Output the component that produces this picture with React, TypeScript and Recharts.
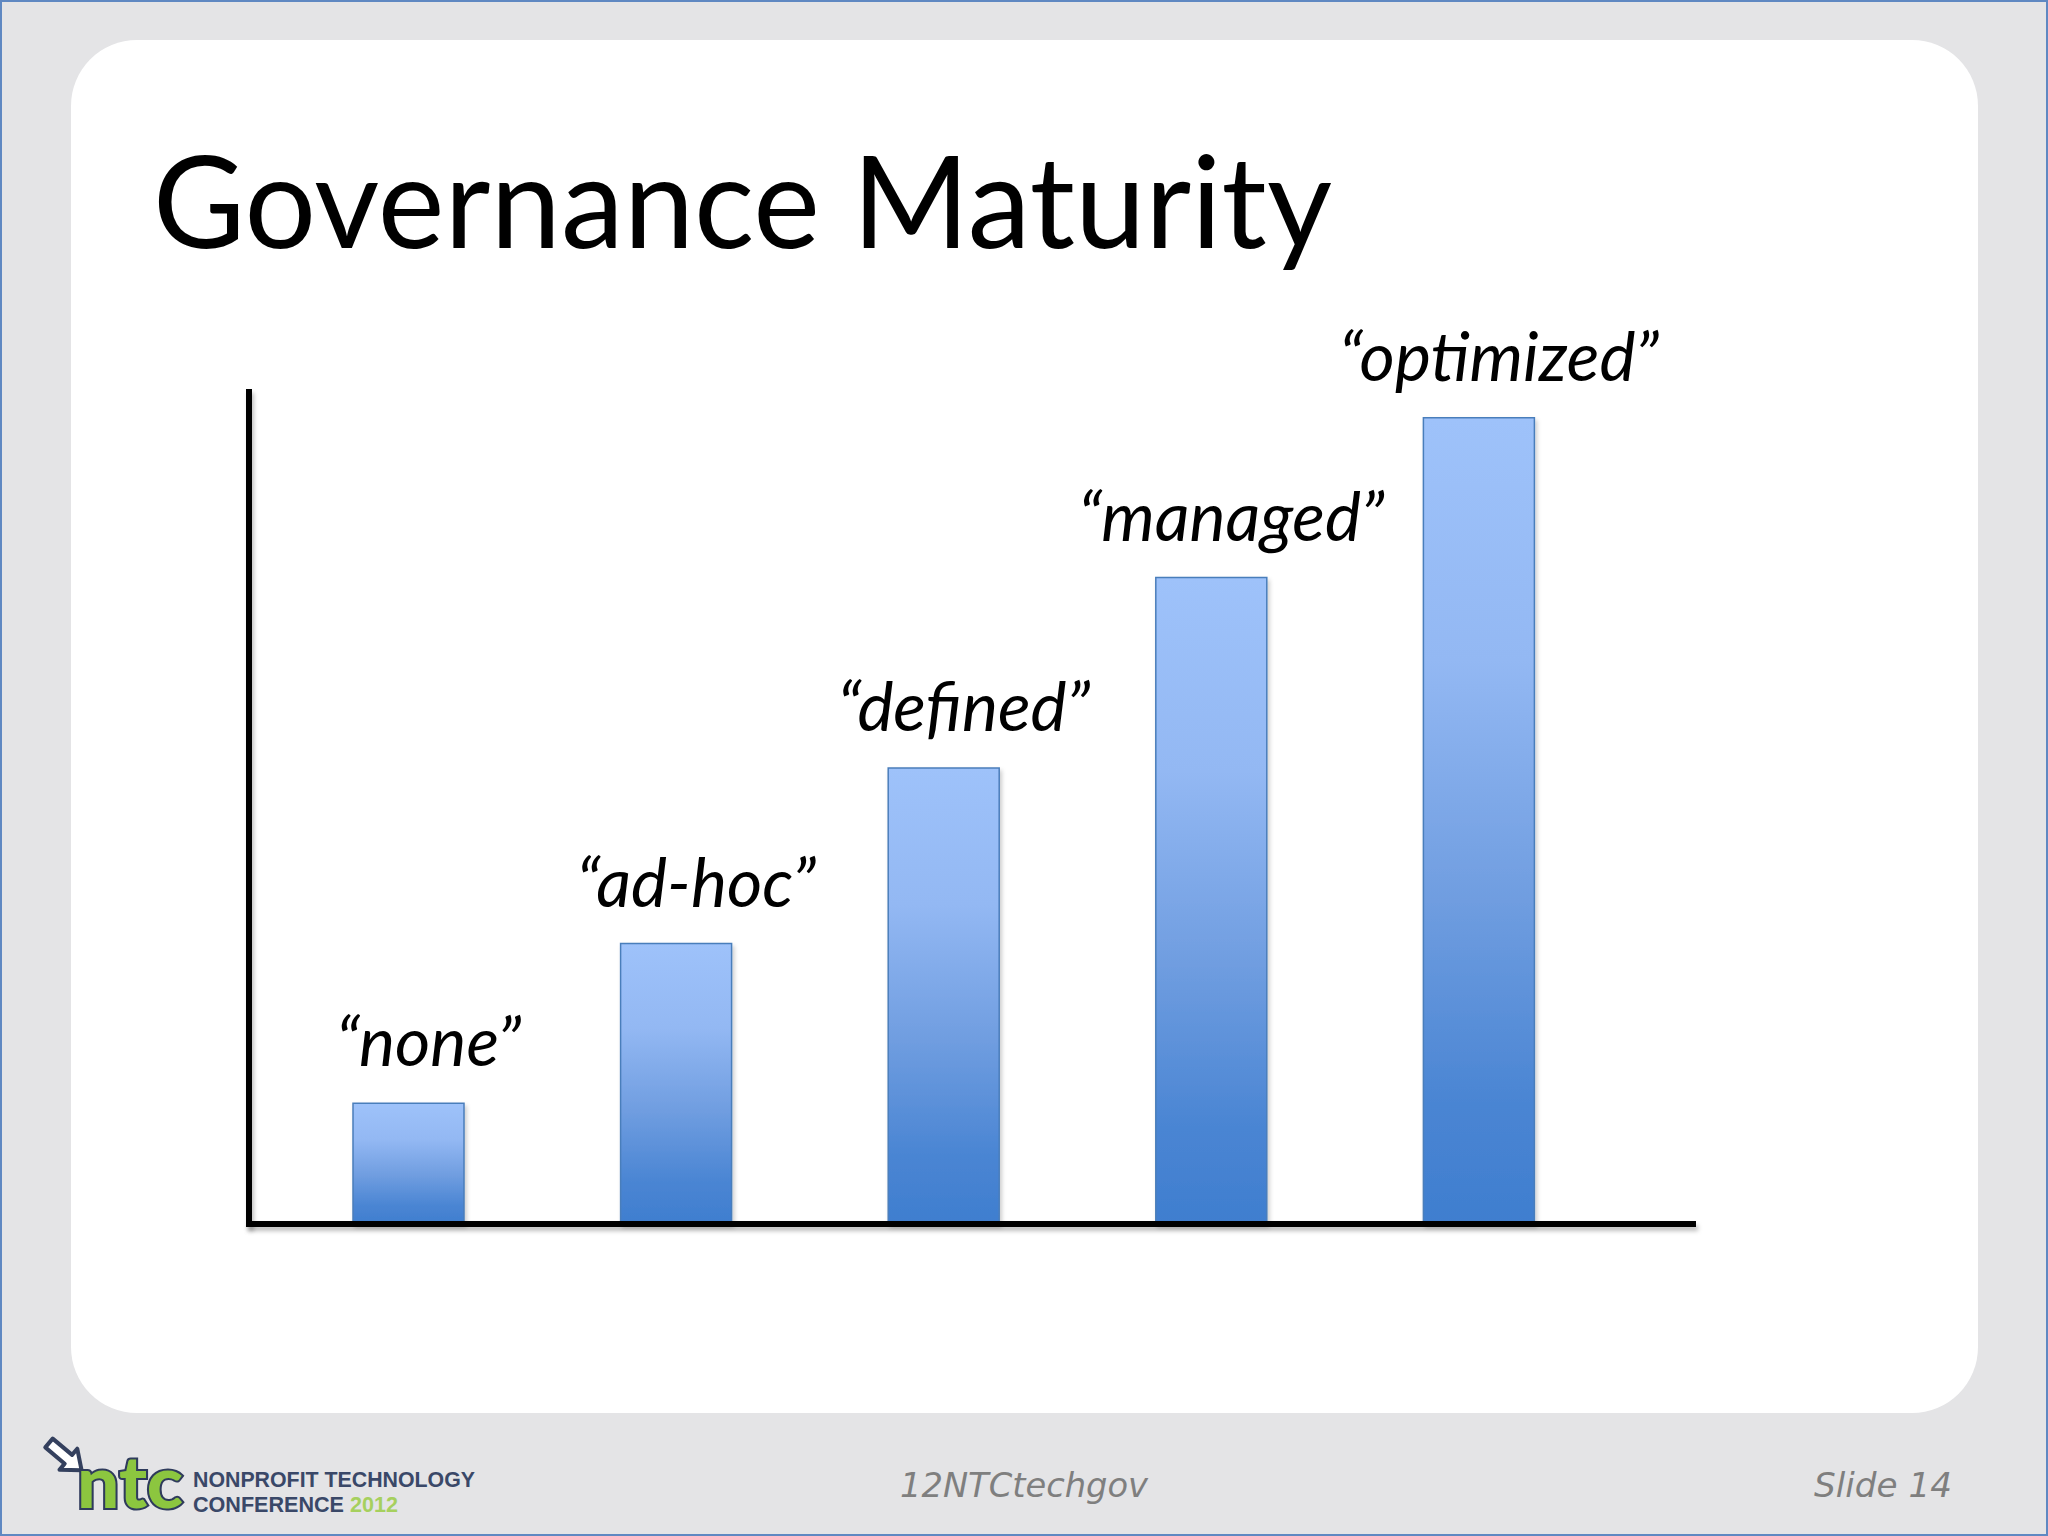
import React from 'react';
import { BarChart, Bar, XAxis, YAxis, LabelList } from 'recharts';

// ---- data ----
const categories: string[] = ['none', 'ad-hoc', 'defined', 'managed', 'optimized'];
const labels: string[] = ['\u201Cnone\u201D', '\u201Cad-hoc\u201D', '\u201Cdefined\u201D', '\u201Cmanaged\u201D', '\u201Coptimized\u201D'];
const maturity: number[] = [14.5, 33.7, 54.8, 77.7, 96.9];
const yDomain: [number, number] = [0, 100];

const titleText = 'Governance Maturity';
const footerCenter = '12NTCtechgov';
const footerRight = 'Slide 14';

const data = categories.map((c, i) => ({ category: c, label: labels[i], value: maturity[i] }));

const W = 2048;
const H = 1536;

const BarLabel = (props: any) => {
  const { x, y, width, value } = props;
  return (
    <text
      x={Number(x) + Number(width) / 2 + 20}
      y={Number(y) - 37}
      textAnchor="middle"
      fontFamily="Lato, 'Open Sans', sans-serif"
      fontStyle="italic"
      fontSize={68}
      fill="#000"
    >
      {value}
    </text>
  );
};

const Logo = () => (
  <g>
    {/* arrow icon */}
    <g transform="translate(49 1443) rotate(40) scale(1.15)">
      <path
        d="M0 -5 L22 -5 L22 -12 L37 0 L22 12 L22 5 L0 5 Z"
        fill="#ffffff"
        stroke="#34405e"
        strokeWidth={3.5}
        strokeLinejoin="round"
      />
    </g>
    <text
      x={77}
      y={1508}
      fontFamily="Lato, sans-serif"
      fontWeight={900}
      fontSize={72}
      fill="#8cc63f"
      stroke="#2f3b5c"
      strokeWidth={4}
      paintOrder="stroke"
      textLength={106}
      lengthAdjust="spacingAndGlyphs"
    >
      ntc
    </text>
    <text
      x={193}
      y={1487}
      fontFamily="'Liberation Sans', Arial, sans-serif"
      fontWeight={700}
      fontSize={22}
      fill="#3a4868"
      textLength={282}
      lengthAdjust="spacingAndGlyphs"
    >
      NONPROFIT TECHNOLOGY
    </text>
    <text
      x={193}
      y={1512}
      fontFamily="'Liberation Sans', Arial, sans-serif"
      fontWeight={700}
      fontSize={22}
      fill="#3a4868"
      textLength={205}
      lengthAdjust="spacingAndGlyphs"
    >
      CONFERENCE <tspan fill="#a6d05e">2012</tspan>
    </text>
  </g>
);

const axisLineStyle: any = {
  stroke: '#000',
  strokeWidth: 6,
  strokeLinecap: 'square',
  filter: 'url(#axisShadow)',
};

export default function App() {
  return (
    <div
      style={{
        position: 'absolute',
        left: 0,
        top: 0,
        width: W,
        height: H,
        background: '#e4e4e6',
        boxSizing: 'border-box',
        border: '2px solid #5f88c2',
        overflow: 'hidden',
      }}
    >
      <div
        style={{
          position: 'absolute',
          left: 69,
          top: 38,
          width: 1907,
          height: 1373,
          background: '#ffffff',
          borderRadius: 66,
        }}
      />
      <div style={{ position: 'absolute', left: -2, top: -2 }}>
        <BarChart
          width={W}
          height={H}
          data={data}
          margin={{ top: 392, left: 248, right: 355, bottom: 311 }}
        >
          <defs>
            <linearGradient id="barGrad" x1="0" y1="0" x2="0" y2="1">
              <stop offset="0%" stopColor="#9ec2fa" />
              <stop offset="30%" stopColor="#93b8f3" />
              <stop offset="60%" stopColor="#6f9de0" />
              <stop offset="85%" stopColor="#4a85d3" />
              <stop offset="100%" stopColor="#3f7ecf" />
            </linearGradient>
            <filter id="softShadow" x="-10%" y="-10%" width="130%" height="130%">
              <feDropShadow dx="2" dy="3" stdDeviation="2" floodColor="#000" floodOpacity="0.2" />
            </filter>
            <filter id="axisShadow" filterUnits="userSpaceOnUse" x="0" y="0" width={W} height={H}>
              <feDropShadow dx="2" dy="4" stdDeviation="2" floodColor="#000" floodOpacity="0.25" />
            </filter>
          </defs>
          <XAxis
            dataKey="category"
            height={1}
            tick={false}
            tickLine={false}
            padding={{ left: 26, right: 80 }}
            axisLine={axisLineStyle}
          />
          <YAxis
            width={1}
            domain={yDomain}
            tick={false}
            tickLine={false}
            axisLine={axisLineStyle}
          />
          <Bar
            dataKey="value"
            barSize={111}
            fill="url(#barGrad)"
            stroke="#4a7ebb"
            strokeWidth={1.5}
            filter="url(#softShadow)"
            isAnimationActive={false}
          >
            <LabelList dataKey="label" content={BarLabel} />
          </Bar>
        </BarChart>
      </div>
      <svg
        width={W}
        height={H}
        style={{ position: 'absolute', left: -2, top: -2, pointerEvents: 'none' }}
      >
        <text
          x={153}
          y={248}
          fontFamily="Lato, 'Open Sans', sans-serif"
          fontSize={128}
          fill="#000"
          textLength={1179}
          lengthAdjust="spacingAndGlyphs"
        >
          {titleText}
        </text>
        <text
          x={900}
          y={1497}
          fontFamily="'DejaVu Sans', sans-serif"
          fontStyle="italic"
          fontSize={34}
          fill="#7f7f7f"
          textLength={248}
          lengthAdjust="spacingAndGlyphs"
        >
          {footerCenter}
        </text>
        <text
          x={1814}
          y={1497}
          fontFamily="'DejaVu Sans', sans-serif"
          fontStyle="italic"
          fontSize={34}
          fill="#7f7f7f"
          textLength={138}
          lengthAdjust="spacingAndGlyphs"
        >
          {footerRight}
        </text>
        <Logo />
      </svg>
    </div>
  );
}
